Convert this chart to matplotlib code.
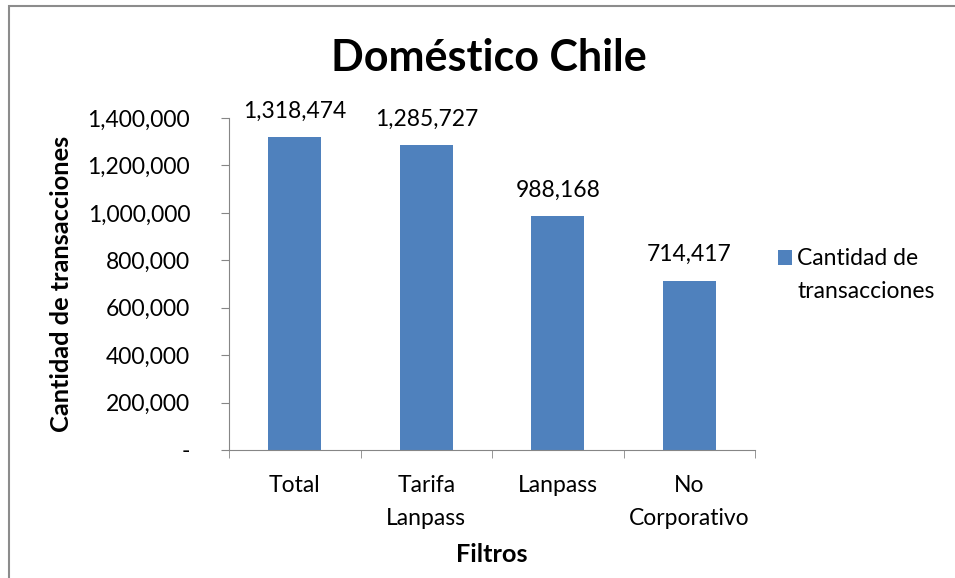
import matplotlib
matplotlib.use("Agg")
import matplotlib.pyplot as plt
from matplotlib.patches import Rectangle
from matplotlib.ticker import FuncFormatter

categories = ["Total", "Tarifa\nLanpass", "Lanpass", "No\nCorporativo"]
values = [1318474, 1285727, 988168, 714417]
series_name = "Cantidad de\ntransacciones"
bar_color = '#4F81BD'

plt.rcParams['font.family'] = ['Lato', 'DejaVu Sans']

fig = plt.figure(figsize=(9.55, 5.78), dpi=100)
fig.patches.append(Rectangle((9/955, -0.1), 1.2, 1 - 6/578 + 0.1, transform=fig.transFigure,
                             fill=False, edgecolor='#8c8c8c', linewidth=1.5))

ax = fig.add_axes([229/955, 1 - 450/578, (755-229)/955, (450-118)/578])
x = range(len(categories))
bars = ax.bar(x, values, width=0.4, color=bar_color, label=series_name)
ax.set_xlim(-0.5, len(categories) - 0.5)
ax.set_ylim(0, 1400000)
ax.set_yticks(range(0, 1400001, 200000))
ax.yaxis.set_major_formatter(FuncFormatter(lambda v, p: '-' if v == 0 else f"{int(v):,}"))
ax.set_xticks(list(x))
ax.set_xticklabels(categories, fontsize=16.5, linespacing=1.7)
ax.set_xticks([i - 0.5 for i in range(len(categories) + 1)], minor=True)
ax.tick_params(axis='x', which='major', length=0, pad=18)
ax.tick_params(axis='x', which='minor', length=6, color='#868686', direction='out')
ax.tick_params(axis='y', length=6, color='#868686', direction='out', labelsize=16.5, pad=22)
for s in ['top', 'right']:
    ax.spines[s].set_visible(False)
for s in ['left', 'bottom']:
    ax.spines[s].set_color('#868686')

for i, v in enumerate(values):
    ax.annotate(f"{v:,}", (i, v), xytext=(0, 11), textcoords='offset points',
                ha='center', va='bottom', fontsize=16.5)

ax.set_xlabel("Filtros", fontsize=18.3, fontweight='bold', va='center')
ax.xaxis.set_label_coords(0.5, (450-555)/332)
ax.set_ylabel("Cantidad de transacciones", fontsize=18.3, fontweight='bold', va='center')
ax.yaxis.set_label_coords((62-229)/526, 0.5)
fig.text(489/955, 1 - 58/578, "Doméstico Chile", ha='center', va='center', fontsize=31, fontweight='bold')

# Legend (Excel style: marker aligned with first text line)
fig.patches.append(Rectangle((778/955, 1 - 265/578), 14/955, 15/578, transform=fig.transFigure,
                             facecolor=bar_color, edgecolor='none'))
fig.text(797/955, 1 - 275/578, series_name, ha='left', va='center', fontsize=16.5,
         linespacing=1.66, multialignment='left')

fig.savefig("out.png", dpi=100)
